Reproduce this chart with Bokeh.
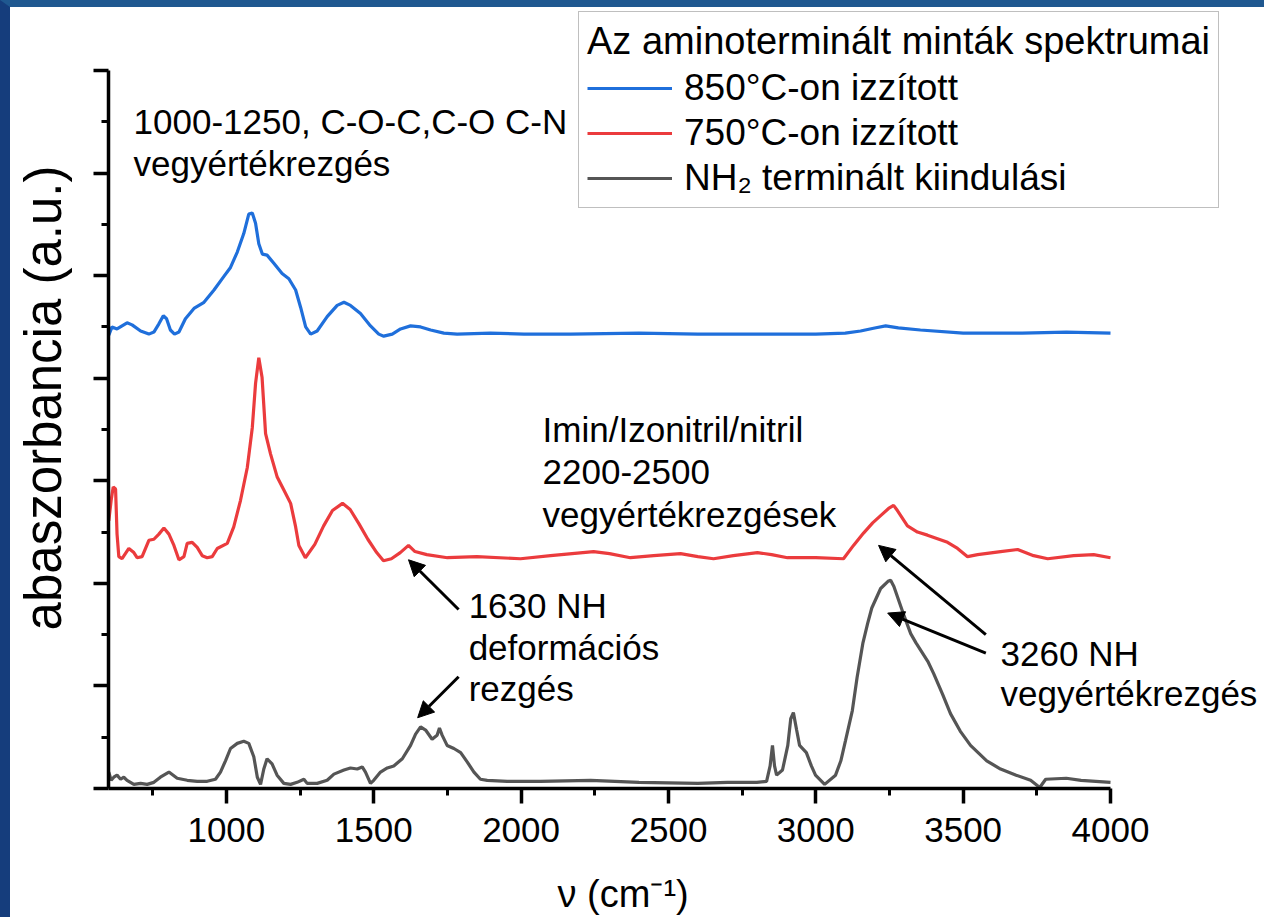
from bokeh.plotting import figure
from bokeh.models import Range1d, FixedTicker, Legend, LegendItem, Label, Arrow, NormalHead
from bokeh.embed import file_html
from bokeh.resources import INLINE

# ---- data (absorbance, arbitrary units, stacked spectra) ----
nh2_wn = [601, 609, 618, 629, 641, 652, 663, 686, 709, 731, 754, 776, 805, 833, 867, 901, 935, 963, 980,
          997, 1014, 1037, 1059, 1076, 1093, 1105, 1116, 1127, 1138, 1155, 1172, 1195, 1218, 1240, 1263,
          1274, 1308, 1342, 1365, 1399, 1421, 1444, 1461, 1472, 1489, 1500, 1523, 1546, 1568, 1597, 1625,
          1642, 1659, 1676, 1698, 1715, 1723, 1732, 1749, 1772, 1795, 1817, 1840, 1862, 1885, 1953, 2066,
          2236, 2400, 2600, 2700, 2800, 2833, 2845, 2853, 2860, 2867, 2887, 2905, 2915, 2924, 2935, 2945,
          2968, 2985, 2999, 3030, 3067, 3085, 3101, 3124, 3140, 3160, 3176, 3190, 3220, 3245, 3254, 3265,
          3300, 3322, 3340, 3380, 3400, 3430, 3457, 3490, 3525, 3580, 3627, 3680, 3729, 3760, 3780, 3850,
          3900, 3950, 4000]
nh2_abs = [0.16, 0.08, 0.11, 0.13, 0.09, 0.11, 0.08, 0.04, 0.05, 0.04, 0.06, 0.11, 0.16, 0.10, 0.08, 0.07,
           0.07, 0.09, 0.16, 0.27, 0.39, 0.44, 0.46, 0.44, 0.31, 0.11, 0.04, 0.19, 0.29, 0.24, 0.13, 0.05,
           0.04, 0.06, 0.09, 0.05, 0.05, 0.08, 0.14, 0.18, 0.20, 0.19, 0.21, 0.16, 0.05, 0.08, 0.16, 0.20,
           0.22, 0.29, 0.42, 0.53, 0.60, 0.57, 0.48, 0.52, 0.59, 0.52, 0.42, 0.39, 0.35, 0.26, 0.16, 0.09,
           0.08, 0.07, 0.07, 0.08, 0.06, 0.05, 0.06, 0.06, 0.07, 0.22, 0.42, 0.22, 0.13, 0.18, 0.42, 0.68,
           0.74, 0.57, 0.42, 0.35, 0.22, 0.13, 0.04, 0.13, 0.27, 0.47, 0.76, 1.08, 1.42, 1.61, 1.76, 1.95,
           2.02, 2.03, 1.97, 1.68, 1.51, 1.42, 1.24, 1.12, 0.92, 0.73, 0.56, 0.42, 0.27, 0.19, 0.13, 0.08,
           0.01, 0.09, 0.10, 0.08, 0.07, 0.06]

t750_wn = [601, 609, 616, 624, 629, 635, 646, 669, 686, 697, 714, 737, 754, 771, 788, 805, 822, 839, 856,
           867, 884, 901, 918, 935, 952, 969, 1003, 1025, 1048, 1071, 1088, 1099, 1110, 1121, 1133, 1150,
           1172, 1195, 1218, 1235, 1246, 1268, 1300, 1330, 1360, 1394, 1420, 1450, 1480, 1510, 1533, 1560,
           1590, 1618, 1640, 1680, 1750, 1850, 1998, 2100, 2246, 2300, 2371, 2450, 2541, 2600, 2653, 2720,
           2802, 2850, 2904, 3000, 3094, 3128, 3162, 3193, 3220, 3247, 3264, 3277, 3311, 3345, 3379, 3447,
           3481, 3515, 3549, 3627, 3685, 3739, 3787, 3875, 3943, 4000]
t750_abs = [2.61, 2.81, 2.94, 2.92, 2.48, 2.26, 2.24, 2.34, 2.30, 2.25, 2.26, 2.42, 2.43, 2.48, 2.54, 2.48,
            2.37, 2.23, 2.26, 2.39, 2.40, 2.35, 2.27, 2.25, 2.26, 2.34, 2.39, 2.55, 2.81, 3.13, 3.52, 3.95,
            4.20, 4.01, 3.46, 3.26, 3.04, 2.91, 2.78, 2.55, 2.37, 2.25, 2.38, 2.56, 2.71, 2.78, 2.72, 2.58,
            2.43, 2.30, 2.22, 2.24, 2.30, 2.37, 2.31, 2.28, 2.25, 2.26, 2.24, 2.27, 2.31, 2.29, 2.25, 2.27,
            2.29, 2.26, 2.24, 2.27, 2.30, 2.28, 2.25, 2.25, 2.24, 2.37, 2.49, 2.59, 2.66, 2.73, 2.76, 2.71,
            2.56, 2.50, 2.47, 2.40, 2.34, 2.26, 2.28, 2.31, 2.33, 2.27, 2.24, 2.27, 2.28, 2.25]

t850_wn = [601, 612, 629, 646, 663, 680, 709, 737, 754, 771, 786, 797, 810, 824, 839, 861, 890, 924, 958,
           991, 1014, 1037, 1059, 1076, 1088, 1099, 1110, 1122, 1138, 1161, 1189, 1212, 1235, 1252, 1269,
           1286, 1308, 1342, 1376, 1399, 1421, 1455, 1489, 1517, 1534, 1563, 1591, 1625, 1659, 1693, 1738,
           1783, 1896, 2010, 2168, 2400, 2600, 2800, 3000, 3100, 3152, 3200, 3237, 3280, 3355, 3500, 3700,
           3850, 4000]
t850_abs = [4.42, 4.50, 4.48, 4.51, 4.54, 4.52, 4.46, 4.43, 4.45, 4.53, 4.61, 4.58, 4.47, 4.43, 4.45, 4.58,
            4.68, 4.74, 4.86, 4.99, 5.08, 5.23, 5.41, 5.60, 5.61, 5.51, 5.31, 5.21, 5.20, 5.12, 5.02, 4.97,
            4.86, 4.69, 4.50, 4.43, 4.46, 4.60, 4.71, 4.74, 4.71, 4.63, 4.51, 4.43, 4.41, 4.43, 4.48, 4.51,
            4.50, 4.47, 4.44, 4.43, 4.44, 4.43, 4.43, 4.44, 4.43, 4.43, 4.43, 4.44, 4.46, 4.49, 4.51, 4.49,
            4.47, 4.44, 4.44, 4.45, 4.44]

x_major = [1000, 1500, 2000, 2500, 3000, 3500, 4000]
x_minor = [750, 1250, 1750, 2250, 2750, 3250, 3750]
y_major = [0, 1, 2, 3, 4, 5, 6, 7]
y_minor = [0.5, 1.5, 2.5, 3.5, 4.5, 5.5, 6.5]

series_names = ["850°C-on izzított", "750°C-on izzított", "NH₂ terminált kiindulási"]
legend_title = "Az aminoterminált minták spektrumai"
x_label = "ν (cm⁻¹)"
y_label = "abaszorbancia (a.u.)"

# annotation texts: (x, y, text)
notes = [
    (685, 6.50, "1000-1250, C-O-C,C-O C-N"),
    (685, 6.09, "vegyértékrezgés"),
    (2073, 3.50, "Imin/Izonitril/nitril"),
    (2073, 3.09, "2200-2500"),
    (2073, 2.67, "vegyértékrezgések"),
    (1822, 1.78, "1630 NH"),
    (1822, 1.37, "deformációs"),
    (1822, 0.975, "rezgés"),
    (3627, 1.32, "3260 NH"),
    (3627, 0.93, "vegyértékrezgés"),
]
# arrows: (x_tail, y_tail, x_head, y_head)
arrows = [
    (1788, 1.745, 1618, 2.23),
    (1788, 1.09, 1649, 0.69),
    (3577, 1.50, 3213, 2.37),
    (3577, 1.32, 3244, 1.71),
]

FONT = "Liberation Sans"

# page strip of the slide: 10px on the left, 7px on top
STRIP_L, STRIP_T = 10, 7
AXIS_LEFT_PX, AXIS_BOTTOM_PX, PAGE_W = 108, 788, 1264

# frame spans the whole area right of / above the axes; the axes are bounded to the data span
FRAME_W = PAGE_W - AXIS_LEFT_PX
FRAME_H = AXIS_BOTTOM_PX - STRIP_T
X0, X1, Y0, Y1 = 600, 4000, 0, 7
x_end = X0 + FRAME_W * (X1 - X0) / 1002.0
y_end = FRAME_H * (Y1 - Y0) / 718.0

p = figure(frame_width=FRAME_W, frame_height=FRAME_H,
           x_range=Range1d(X0, x_end), y_range=Range1d(Y0, y_end),
           output_backend="svg", toolbar_location=None,
           min_border_left=AXIS_LEFT_PX - STRIP_L, min_border_right=0, min_border_top=0,
           min_border_bottom=110)
p.styles = {"border-left": f"{STRIP_L}px solid #153d7c", "border-top": f"{STRIP_T}px solid #1f5890"}
p.outline_line_color = None
p.grid.visible = False
p.background_fill_color = "white"
p.border_fill_color = "white"

r_850 = p.line(t850_wn, t850_abs, line_color="#1f6fdb", line_width=3.2)
r_750 = p.line(t750_wn, t750_abs, line_color="#eb3b3d", line_width=3.2)
r_nh2 = p.line(nh2_wn, nh2_abs, line_color="#555555", line_width=3.2)

for ax in (p.xaxis[0], p.yaxis[0]):
    ax.axis_line_width = 3.5
    ax.axis_line_color = "black"
    ax.major_tick_line_width = 3.5
    ax.minor_tick_line_width = 3
    ax.major_tick_in = 0
    ax.major_tick_out = 15
    ax.minor_tick_in = 0
    ax.minor_tick_out = 7
    ax.major_label_text_font = FONT
    ax.axis_label_text_font = FONT
    ax.axis_label_text_font_style = "normal"
    ax.major_label_text_color = "black"
    ax.axis_label_text_color = "black"

p.xaxis.bounds = (X0, X1)
p.xaxis.ticker = FixedTicker(ticks=x_major, minor_ticks=x_minor)
p.xaxis.major_label_text_font_size = "35px"
p.xaxis.major_label_standoff = 14
p.xaxis.axis_label = x_label + "\u00a0" * 12
p.xaxis.axis_label_text_font_size = "38px"
p.xaxis.axis_label_standoff = 28

p.yaxis.bounds = (Y0, Y1)
p.yaxis.ticker = FixedTicker(ticks=y_major, minor_ticks=y_minor)
p.yaxis.major_label_text_font_size = "0px"
p.yaxis.major_label_text_color = None
p.yaxis.major_label_standoff = 0
p.yaxis.axis_label = y_label
p.yaxis.axis_label_text_font_size = "51px"
p.yaxis.axis_label_standoff = 22

legend = Legend(items=[LegendItem(label=series_names[0], renderers=[r_850]),
                       LegendItem(label=series_names[1], renderers=[r_750]),
                       LegendItem(label=series_names[2], renderers=[r_nh2])],
                location=(470, 580), title=legend_title)
legend.border_line_color = "#808080"
legend.border_line_width = 1.5
legend.background_fill_color = "white"
legend.background_fill_alpha = 1
legend.padding = 8
legend.spacing = 3
legend.margin = 0
legend.glyph_width = 85
legend.glyph_height = 42
legend.label_height = 42
legend.label_standoff = 12
legend.label_text_font = FONT
legend.label_text_font_size = "37px"
legend.label_text_color = "black"
legend.title_text_font = FONT
legend.title_text_font_size = "38px"
legend.title_text_font_style = "normal"
legend.title_text_color = "black"
legend.title_standoff = 4
p.add_layout(legend)

for x, y, t in notes:
    p.add_layout(Label(x=x, y=y, text=t, text_font=FONT, text_font_size="35px",
                       text_baseline="middle", text_align="left", text_color="black"))

for xt, yt, xh, yh in arrows:
    p.add_layout(Arrow(x_start=xt, y_start=yt, x_end=xh, y_end=yh, line_width=3, line_color="black",
                       end=NormalHead(size=16, fill_color="black", line_color="black")))

open("out.html", "w").write(file_html(p, INLINE))
